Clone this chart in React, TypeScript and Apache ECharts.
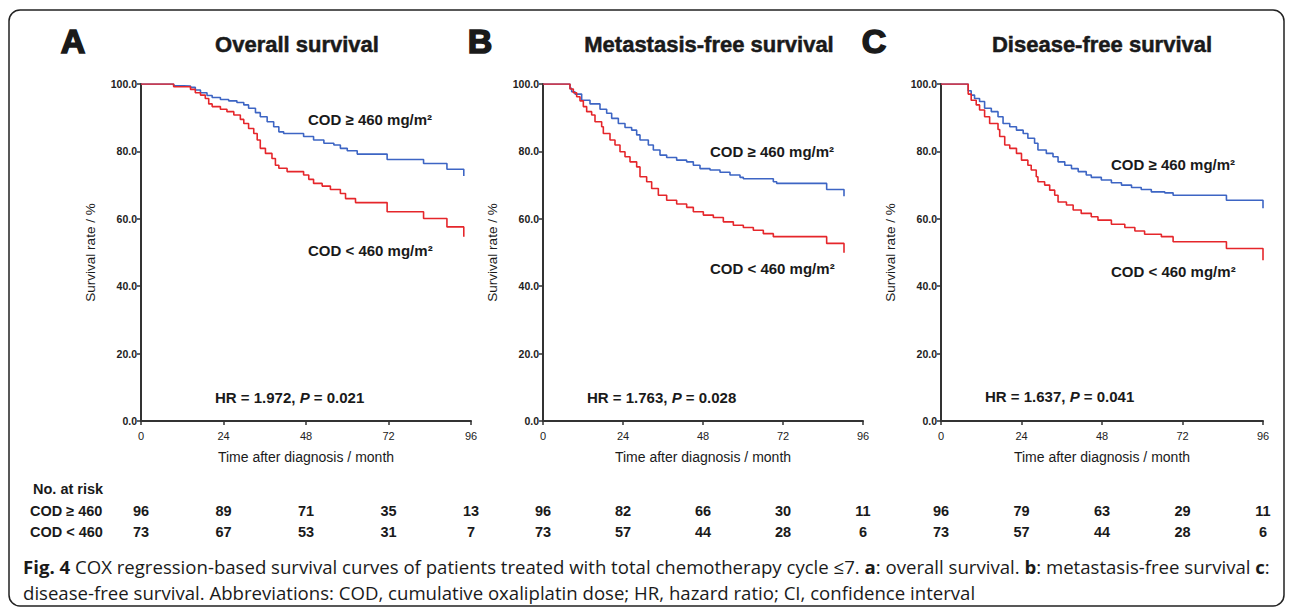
import React, { useEffect, useRef } from 'react';
import * as echarts from 'echarts';

// ---------- data ----------
const riskTimes = [0, 24, 48, 72, 96];

const blueA = [[0,100],[9.5,99.5],[12.4,99.4],[14.4,99],[15.8,98.2],[17.3,97.4],[19.2,96.6],[20.7,96],[23.1,95.4],[25.5,95],[27.9,94.5],[29.9,93.8],[31.3,92.8],[33.3,91.5],[34.7,90.3],[36.7,88.8],[38.6,87.3],[40.1,85.8],[41.5,85.3],[47.3,84.4],[50.2,83.4],[53.2,82.4],[56.1,81.9],[58,80.9],[60,80.2],[62.9,79.2],[71.6,77.6],[82.2,76.4],[89,74.7],[93.9,72.7]];
const redA = [[0,100],[9.5,99.2],[14.4,98.4],[15.8,97.4],[17.3,96.7],[18.7,95.7],[19.7,94.1],[20.7,93.3],[23.1,92.5],[25,91.8],[27,90.8],[28.9,89.5],[29.9,88.3],[31.3,86.8],[32.8,85.3],[33.8,83.4],[34.7,80.9],[36.2,79.4],[38.1,77.9],[39.1,75.9],[40.1,75],[42.5,74],[47.3,73],[48.8,71.7],[50.2,70.5],[52.7,69.7],[55.1,68.7],[58,67.5],[59.5,66],[62.4,64.8],[71.6,62.1],[82.2,60.1],[89,57.6],[93.9,54.7]];

const blueB = [[0,100],[8.1,98.7],[8.6,97.7],[9.6,97],[11.6,95.2],[14.1,94.1],[17.1,92.5],[19.1,91.3],[20.6,89.8],[22.6,88.3],[24.6,87.1],[26.6,86.3],[28.1,84.9],[29.1,83.4],[31.6,81.9],[33.1,80.4],[35.1,78.9],[37.1,78.2],[40.1,77.4],[43.1,76.9],[45.1,75.9],[47.1,74.9],[50.1,74.5],[53.1,73.8],[56.1,73],[59.1,72.3],[60.1,71.9],[69.1,71],[70.1,70.5],[85.1,68.7],[90.3,66.7]];
const redB = [[0,100],[8.1,98.5],[9.1,97.4],[10.1,96.2],[11.1,95],[12.1,93.3],[13.1,91.8],[14.6,90.8],[15.6,88.8],[17.6,87.3],[18.1,85.3],[20.1,83.4],[21.6,81.9],[23.1,79.9],[24.6,78.4],[26.1,76.9],[28.1,75.4],[29.1,72.5],[31.1,71],[32.6,69],[34.6,67],[37.1,65.5],[40.1,64.4],[43.1,63.4],[45.1,62.1],[48.1,61.1],[51.1,60.4],[54.1,59.1],[57.1,58.1],[60.1,57.4],[63.1,56.6],[66.1,55.6],[69.1,54.7],[85.1,52.7],[90.3,49.9]];

const blueC = [[0,100],[8.1,98],[9,96.7],[10,95.7],[11.5,94.8],[13,92.8],[15,91.8],[17,90.3],[18.5,88.3],[20.5,87.3],[22.5,86.3],[24.5,85.3],[25.9,83.9],[27.9,82.4],[28.9,80.4],[31.4,79.4],[33.4,78.4],[34.9,76.9],[36.9,75.9],[38.9,74.9],[40.9,74],[43.3,73],[44.8,72.3],[47.8,71.5],[50.8,70.7],[53.8,70],[56.8,69.3],[59.7,68.7],[62.7,68],[66.7,67.7],[69.2,67],[85.1,65.5],[96,63.1]];
const redC = [[0,100],[8.1,97],[9,95.2],[10.5,93.8],[11.5,92.3],[13,90.3],[14.5,88.3],[17,86.5],[17.5,84.4],[19,81.9],[20.5,80.9],[22.5,79.4],[24,77.4],[25.9,75.9],[26.9,74.5],[28.4,72.5],[28.9,71],[30.9,70],[32.4,68.5],[33.9,67],[34.9,65],[37.4,64.1],[39.4,62.6],[41.8,61.6],[44.8,60.6],[46.8,59.6],[50.8,58.4],[54.8,57.4],[57.8,56.4],[60.7,55.4],[65.7,54.7],[69.2,53.2],[85.1,51.2],[96,47.7]];

const riskHighA = [96, 89, 71, 35, 13];
const riskLowA = [73, 67, 53, 31, 7];
const riskHighB = [96, 82, 66, 30, 11];
const riskLowB = [73, 57, 44, 28, 6];
const riskHighC = [96, 79, 63, 29, 11];
const riskLowC = [73, 57, 44, 28, 6];

const letters = ['A', 'B', 'C'];
const titles = ['Overall survival', 'Metastasis-free survival', 'Disease-free survival'];
const hrValues = ['1.972', '1.763', '1.637'];
const pValues = ['0.021', '0.028', '0.041'];
const highLabel = 'COD \u2265 460 mg/m\u00B2';
const lowLabel = 'COD < 460 mg/m\u00B2';
const rowHigh = 'COD \u2265 460';
const rowLow = 'COD < 460';
const xName = 'Time after diagnosis / month';
const yName = 'Survival rate / %';

// ---------- layout ----------
const BLUE = '#3d65c4';
const RED = '#e5262b';
const AX = '#333333';
const INK = '#1a1a1a';
const SANS = "'Liberation Sans', Arial, sans-serif";
const CAP = "'Open Sans', 'Noto Sans', sans-serif";

const panels = [
  { high: blueA, low: redA, rH: riskHighA, rL: riskLowA, grid: { left: 141, top: 84, width: 330, height: 337 }, titleX: 297, letterX: 73, hl: [308, 119], ll: [308, 250], hr: [215, 397] },
  { high: blueB, low: redB, rH: riskHighB, rL: riskLowB, grid: { left: 543, top: 84, width: 320, height: 337 }, titleX: 709, letterX: 480, hl: [710, 151], ll: [710, 268], hr: [587, 397] },
  { high: blueC, low: redC, rH: riskHighC, rL: riskLowC, grid: { left: 941, top: 84, width: 322, height: 337 }, titleX: 1102, letterX: 874, hl: [1111, 164], ll: [1111, 271], hr: [985, 396] },
];

function txt(x: number, y: number, text: string, opts: any = {}) {
  const align = opts.align || 'left';
  return {
    type: 'text', x, y, silent: true,
    style: {
      text,
      fill: opts.fill || INK,
      fontSize: opts.fontSize || 14,
      fontWeight: opts.fontWeight || 'bold',
      fontFamily: opts.fontFamily || SANS,
      fontStyle: opts.fontStyle || 'normal',
      align, textAlign: align,
      verticalAlign: 'middle', textVerticalAlign: 'middle',
      stroke: opts.stroke,
      lineWidth: opts.lineWidth,
      rich: opts.rich,
    },
  };
}

export default function App() {
  const ref = useRef<HTMLDivElement>(null);
  useEffect(() => {
    const chart = echarts.init(ref.current!, null, { renderer: 'svg' });
    const grids: any[] = [];
    const xAxes: any[] = [];
    const yAxes: any[] = [];
    const series: any[] = [];
    const graphic: any[] = [];

    graphic.push({ type: 'rect', silent: true, shape: { x: 9, y: 10, width: 1275, height: 596, r: 11 }, style: { fill: 'none', stroke: '#222', lineWidth: 1.5 } });

    panels.forEach((p, i) => {
      grids.push({ ...p.grid, containLabel: false });
      xAxes.push({
        gridIndex: i, type: 'value', min: 0, max: 96, interval: 24,
        axisLine: { show: true, onZero: false, lineStyle: { color: AX, width: 2 } },
        axisTick: { show: true, length: 4, lineStyle: { color: AX, width: 1.5 } },
        axisLabel: { color: '#222', fontSize: 11, fontFamily: SANS, margin: 9 },
        splitLine: { show: false },
        name: xName, nameLocation: 'middle', nameGap: 29,
        nameTextStyle: { color: INK, fontSize: 14, fontFamily: SANS },
      });
      yAxes.push({
        gridIndex: i, type: 'value', min: 0, max: 100, interval: 20,
        axisLine: { show: true, onZero: false, lineStyle: { color: AX, width: 2 } },
        axisTick: { show: true, length: 4, lineStyle: { color: AX, width: 1.5 } },
        axisLabel: { color: '#222', fontSize: 10.5, fontWeight: 'bold', fontFamily: SANS, margin: 4, formatter: (v: number) => v.toFixed(1) },
        splitLine: { show: false },
        name: yName, nameLocation: 'middle', nameGap: 44, nameRotate: 90,
        nameTextStyle: { color: INK, fontSize: 13.5, fontFamily: SANS },
      });
      series.push({ type: 'line', step: 'end', xAxisIndex: i, yAxisIndex: i, data: p.high, symbol: 'none', showSymbol: false, lineStyle: { color: BLUE, width: 1.6 }, itemStyle: { color: BLUE }, z: 3 });
      series.push({ type: 'line', step: 'end', xAxisIndex: i, yAxisIndex: i, data: p.low, symbol: 'none', showSymbol: false, lineStyle: { color: RED, width: 1.6 }, itemStyle: { color: RED }, z: 4 });

      graphic.push(txt(p.letterX, 41, letters[i], { fontSize: 34, fontWeight: 900, align: 'center', stroke: INK, lineWidth: 1.6 }));
      graphic.push(txt(p.titleX, 44, titles[i], { fontSize: 22, align: 'center', stroke: INK, lineWidth: 0.5 }));
      graphic.push(txt(p.hl[0], p.hl[1], highLabel, { fontSize: 15 }));
      graphic.push(txt(p.ll[0], p.ll[1], lowLabel, { fontSize: 15 }));
      graphic.push(txt(p.hr[0], p.hr[1], `HR = ${hrValues[i]}, {i|P} = ${pValues[i]}`, {
        fontSize: 15,
        rich: { i: { fontStyle: 'italic', fontWeight: 'bold', fontSize: 15, fontFamily: SANS, fill: INK } },
      }));
      riskTimes.forEach((t, k) => {
        const x = p.grid.left + (t / 96) * p.grid.width;
        graphic.push(txt(x, 511, String(p.rH[k]), { fontSize: 14.5, align: 'center' }));
        graphic.push(txt(x, 532, String(p.rL[k]), { fontSize: 14.5, align: 'center' }));
      });
    });

    graphic.push(txt(33, 489, 'No. at risk', { fontSize: 14.5 }));
    graphic.push(txt(30, 511, rowHigh, { fontSize: 14.5 }));
    graphic.push(txt(30, 532, rowLow, { fontSize: 14.5 }));

    const capRich = {
      b: { fontWeight: 'bold', fontSize: 18.6, fontFamily: CAP, fill: INK },
    };
    graphic.push(txt(23, 566, '{b|Fig. 4} COX regression-based survival curves of patients treated with total chemotherapy cycle \u22647. {b|a}: overall survival. {b|b}: metastasis-free survival {b|c}:', { fontSize: 18.6, fontWeight: 'normal', fontFamily: CAP, rich: capRich }));
    graphic.push(txt(23, 592, 'disease-free survival. Abbreviations: COD, cumulative oxaliplatin dose; HR, hazard ratio; CI, confidence interval', { fontSize: 18.6, fontWeight: 'normal', fontFamily: CAP }));

    chart.setOption({
      animation: false,
      backgroundColor: '#ffffff',
      grid: grids,
      xAxis: xAxes,
      yAxis: yAxes,
      series,
      graphic: { elements: graphic },
    });
    return () => chart.dispose();
  }, []);
  return <div ref={ref} style={{ position: 'fixed', left: 0, top: 0, width: 1292, height: 611, background: '#fff' }} />;
}
